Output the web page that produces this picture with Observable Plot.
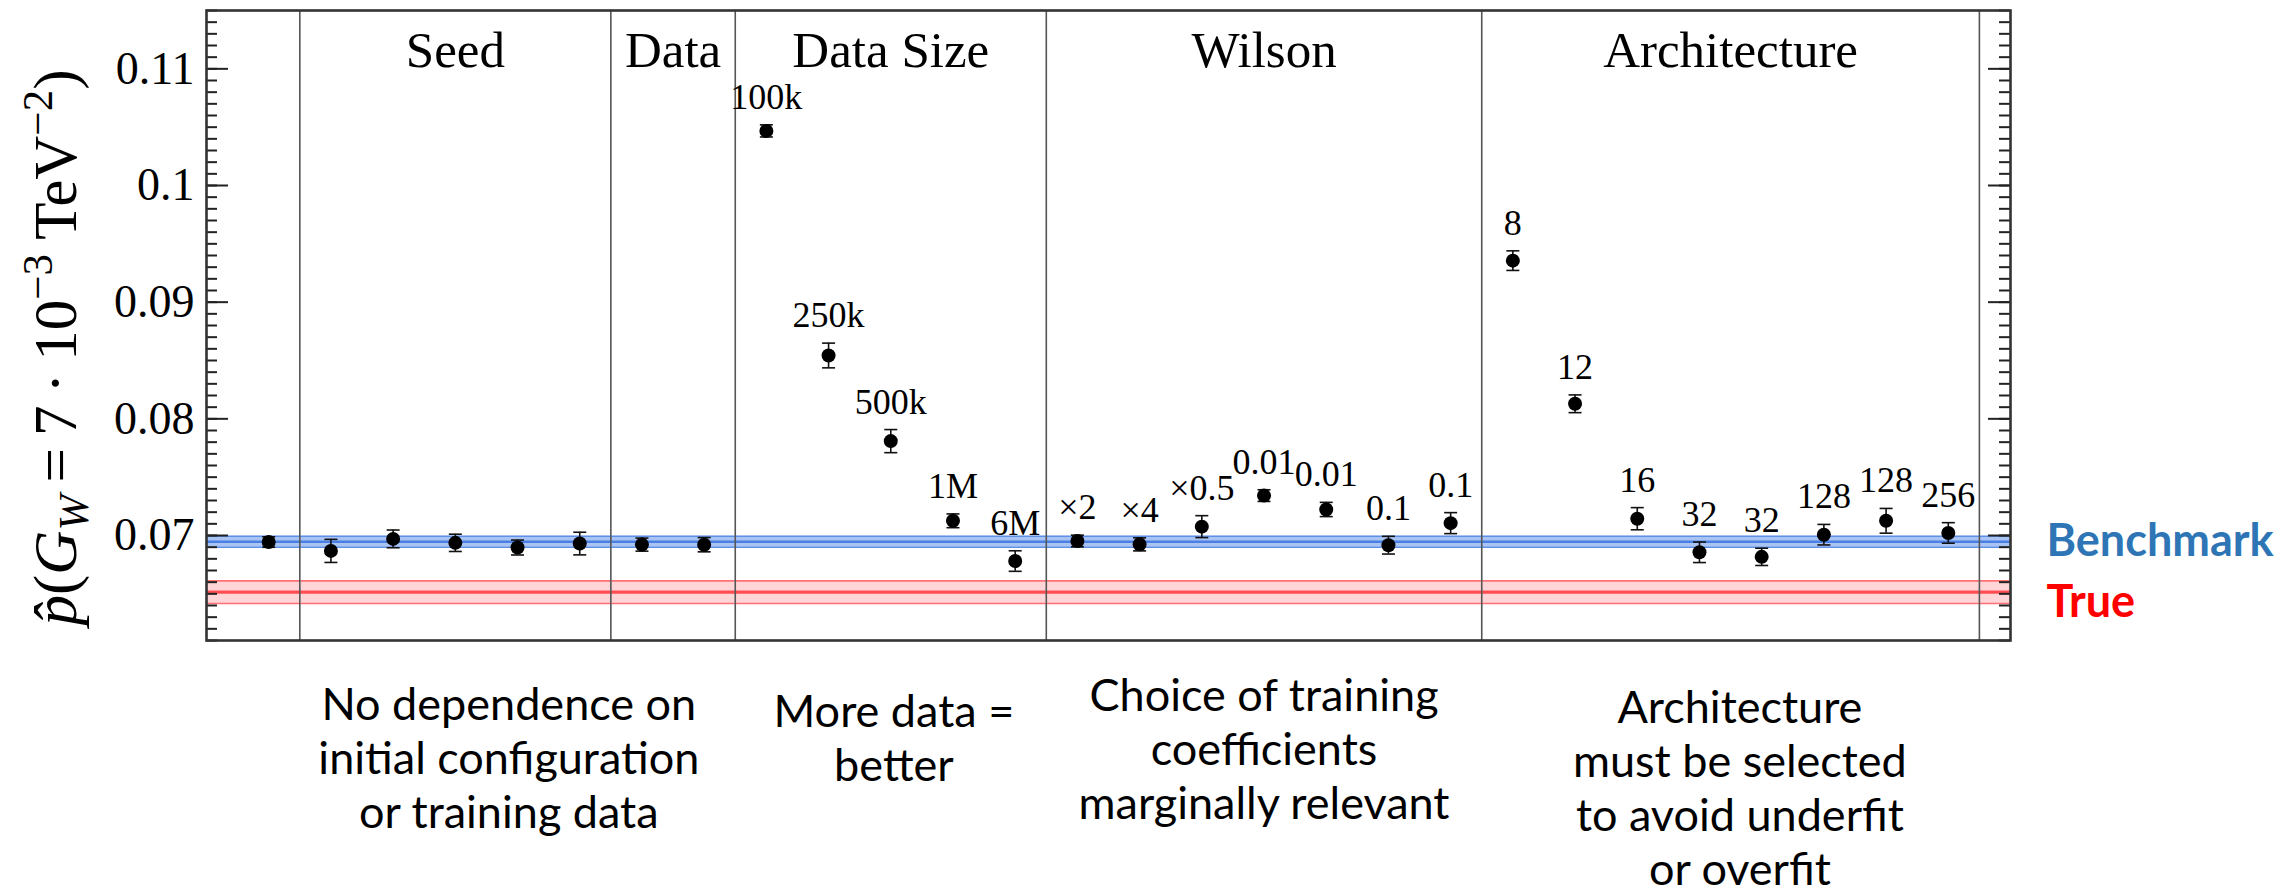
<!DOCTYPE html>
<html><head><meta charset="utf-8">
<script src="https://cdn.jsdelivr.net/npm/d3@7"></script>
<script src="https://cdn.jsdelivr.net/npm/@observablehq/plot@0.6"></script>
<style>body{margin:0;background:#fff}</style>
</head><body><div id="chart"></div>
<script>
// ---------- data ----------
const pointLabels = ["", "", "", "", "", "", "", "",
  "100k", "250k", "500k", "1M", "6M",
  "×2", "×4", "×0.5", "0.01", "0.01", "0.1", "0.1",
  "8", "12", "16", "32", "32", "128", "128", "256"];
const pointValues = [0.06944, 0.06868, 0.06971, 0.06937, 0.06897, 0.06931, 0.06922, 0.06921,
  0.10468, 0.08543, 0.07809, 0.07126, 0.06781,
  0.06953, 0.06924, 0.07076, 0.07342, 0.07223, 0.06917, 0.07106,
  0.09356, 0.08129, 0.07144, 0.06856, 0.06817, 0.07007, 0.07126, 0.07022];
const pointErrors = [0.00045, 0.00099, 0.00076, 0.00074, 0.00064, 0.00097, 0.00056, 0.00061,
  0.00052, 0.00106, 0.00099, 0.00059, 0.00088,
  0.0005, 0.00056, 0.00094, 0.0005, 0.00061, 0.00076, 0.0009,
  0.00084, 0.00076, 0.00095, 0.00088, 0.00074, 0.00088, 0.00106, 0.00088];
const groupNames = ["Seed", "Data", "Data Size", "Wilson", "Architecture"];
const groupStart = [1, 6, 8, 13, 20];
const groupEnd = [5, 7, 12, 19, 27];
const benchmark = {value: 0.06946, error: 0.00047, name: "Benchmark"};
const truth = {value: 0.06514, error: 0.00097, name: "True"};
const yTicks = [0.07, 0.08, 0.09, 0.1, 0.11];
const yTickLabels = ["0.07", "0.08", "0.09", "0.1", "0.11"];
const noteTexts = [
  "No dependence on\ninitial configuration\nor training data",
  "More data =\nbetter",
  "Choice of training\ncoefficients\nmarginally relevant",
  "Architecture\nmust be selected\nto avoid underfit\nor overfit"];
const noteCenter = [3.86, 10.05, 16.0, 23.65];

// ---------- derived tables ----------
const points = pointValues.map((v, i) => ({i, v, e: pointErrors[i], label: pointLabels[i]}));
const groups = groupNames.map((name, k) => ({name, c: (groupStart[k] + groupEnd[k]) / 2}));
const separators = [groupStart[0] - 0.5, ...groupEnd.map(d => d + 0.5)];
const notes = noteTexts.map((text, k) => ({text, c: noteCenter[k]}));
const yDomain = [0.061, 0.115];
const minorTicks = d3.range(61, 116).map(k => k / 1000);

const W = 2282, H = 895, mL = 206, mR = 272, mT = 10, mB = 255;
const FW = W - mL - mR;
const serif = "'Liberation Serif', 'DejaVu Serif', serif";
const sans = "Lato, 'Open Sans', sans-serif";
const noteShift = [41, 48, 32, 44]; // vertical offsets of the notes below the frame (style)

const capSymbol = {draw(ctx, size) { const r = Math.sqrt(size / Math.PI); ctx.moveTo(-r, 0); ctx.lineTo(r, 0); }};

const band = (b, fill, edge, center, cw) => [
  Plot.rect([b], {y1: d => d.value - d.error, y2: d => d.value + d.error, fill}),
  Plot.ruleY([b.value - b.error, b.value + b.error], {stroke: edge, strokeWidth: 1.6}),
  Plot.ruleY([b.value], {stroke: center, strokeWidth: cw})
];

const chart = Plot.plot({
  width: W, height: H,
  marginLeft: mL, marginRight: mR, marginTop: mT, marginBottom: mB,
  x: {domain: [-1, 28], axis: null},
  y: {domain: yDomain, axis: null},
  style: {fontFamily: serif, background: "white", color: "black"},
  marks: [
    ...band(truth, "#ffd5d7", "#ff6f73", "#ff4d52", 3.2),
    ...band(benchmark, "#a9c3f3", "#5e8fe8", "#4a80e6", 2.6),
    Plot.ruleX(separators, {stroke: "#555", strokeWidth: 1.6}),
    Plot.ruleY(minorTicks, {insetRight: FW - 11, stroke: "#222", strokeWidth: 2}),
    Plot.ruleY(minorTicks, {insetLeft: FW - 11, stroke: "#222", strokeWidth: 2}),
    Plot.ruleY(yTicks, {insetRight: FW - 22, stroke: "#222", strokeWidth: 2}),
    Plot.ruleY(yTicks, {insetLeft: FW - 22, stroke: "#222", strokeWidth: 2}),
    Plot.ruleX(points, {x: "i", y1: d => d.v - d.e, y2: d => d.v + d.e, stroke: "#111", strokeWidth: 1.6}),
    Plot.dot(points, {x: "i", y: d => d.v + d.e, symbol: capSymbol, r: 6.5, stroke: "#111", strokeWidth: 1.6}),
    Plot.dot(points, {x: "i", y: d => d.v - d.e, symbol: capSymbol, r: 6.5, stroke: "#111", strokeWidth: 1.6}),
    Plot.dot(points, {x: "i", y: "v", r: 7, fill: "black", stroke: "none"}),
    Plot.text(points.filter(d => d.label), {x: "i", y: d => d.v + d.e, text: "label", dy: -16, lineAnchor: "bottom", fontSize: 36}),
    Plot.text(groups, {x: "c", text: "name", frameAnchor: "top", dy: 56, lineAnchor: "bottom", fontSize: 51}),
    Plot.frame({stroke: "#333", strokeWidth: 2.6}),
    Plot.axisY({ticks: yTicks, tickSize: 0, tickPadding: 12, fontSize: 46, fontFamily: serif,
      tickFormat: d => yTickLabels[yTicks.indexOf(d)]}),
    Plot.text([benchmark], {y: "value", text: "name", frameAnchor: "right", dx: 36, textAnchor: "start",
      fontFamily: sans, fontWeight: "bold", fontSize: 45, fill: "#2e75b6"}),
    Plot.text([truth], {y: "value", text: "name", frameAnchor: "right", dx: 36, dy: 10, textAnchor: "start",
      fontFamily: sans, fontWeight: "bold", fontSize: 45, fill: "#ff0000"}),
    ...notes.map((n, k) => Plot.text([n], {x: "c", text: "text", frameAnchor: "bottom", dy: noteShift[k],
      lineAnchor: "top", lineHeight: 1.2, fontFamily: sans, fontSize: 45, fill: "black"})),
    Plot.text(["ylabel"], {frameAnchor: "left", dx: -150, dy: 22, rotate: -90, fontSize: 61,
      textAnchor: "middle", lineAnchor: "middle"})
  ]
});
document.getElementById("chart").appendChild(chart);

// rich y-axis label: p̂(G_W = 7 · 10^{-3} TeV^{-2})
const yl = d3.select(chart).selectAll("text").filter(function() { return this.textContent === "ylabel"; });
yl.text(null);
const parts = [
  {t: "p\u0302", it: true}, {t: "("}, {t: "G", it: true},
  {t: "W", it: true, sub: true}, {t: "\u2009=\u20097\u2009·\u200910"}, {t: "\u22123", sup: true},
  {t: " TeV"}, {t: "\u22122", sup: true}, {t: ")"}];
let shift = 0;
for (const p of parts) {
  const target = p.sub ? 12 : p.sup ? -24 : 0;
  const ts = yl.append("tspan").text(p.t).attr("dy", target - shift);
  shift = target;
  if (p.it) ts.attr("font-style", "italic");
  if (p.sub || p.sup) ts.attr("font-size", 43);
}
</script>
</body></html>
